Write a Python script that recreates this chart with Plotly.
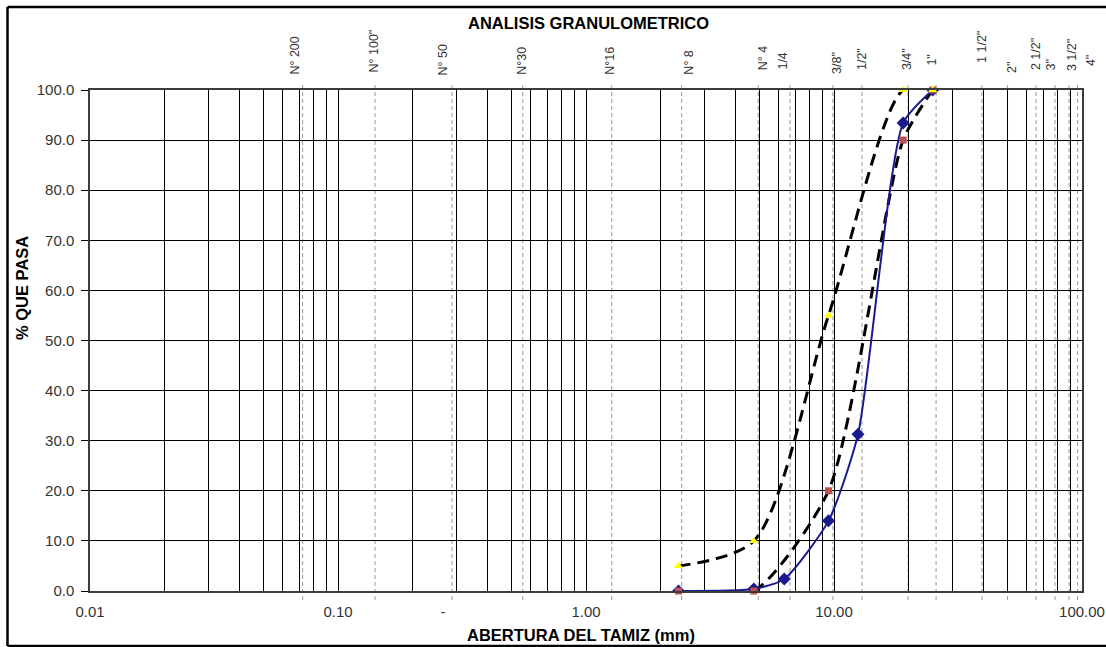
import math
import plotly.graph_objects as go

# ---------------- data ----------------
muestra_mm = [2.36, 4.75, 6.3, 9.5, 12.5, 19.0, 25.0]
muestra_pasa = [0.0, 0.4, 2.4, 14.0, 31.3, 93.4, 100.0]

lim_inf_mm = [2.36, 4.75, 9.5, 19.0, 25.0]
lim_inf_pasa = [0.0, 0.0, 20.0, 90.0, 100.0]

lim_sup_mm = [2.36, 4.75, 9.5, 19.0, 25.0]
lim_sup_pasa = [5.0, 10.0, 55.0, 100.0, 100.0]

tamiz_labels = ["N° 200", "N° 100\"", "N° 50", "N°30", "N°16", "N° 8", "N° 4", "1/4",
                "3/8\"", "1/2\"", "3/4\"", "1\"", "1 1/2\"", "2\"", "2 1/2\"", "3\"",
                "3 1/2\"", "4\""]
tamiz_mm = [0.072, 0.141, 0.288, 0.556, 1.27, 2.43, 4.95, 6.65, 9.9, 12.97, 19.9,
            25.8, 39.5, 50.1, 65.3, 77.8, 88.7, 96.0]

x_tick_vals = [0.01, 0.1, 0.265, 1, 10, 100]
x_tick_text = ["0.01", "0.10", "-", "1.00", "10.00", "100.00"]
grid_vals = [m * 10 ** e for e in range(-2, 2) for m in range(1, 10)] + [100]
y_tick_vals = list(range(0, 101, 10))

# ---------------- style / layout helpers ----------------
W, H = 1106, 647
L, R, T, B = 90, 1082, 90, 591          # plot area in pixels


def px_x(p):
    return (p - L) / (R - L)


def px_y(p):
    return (B - p) / (B - T)


label_dx = [-8, -2, -8, -1, -2, 7, 5, -7, 4, 0, -1, -4, 0, 4, 0, -3, 3, 14]
label_bottom = [77, 75, 77, 77, 77, 77, 72, 72, 76, 72, 72, 68, 65, 75, 72, 72, 73, 68]

FONT = "Liberation Sans, Arial, sans-serif"
BLUE = "#1A1A8F"

fig = go.Figure()

# lower limit (dashed line)
fig.add_trace(go.Scatter(
    x=lim_inf_mm, y=lim_inf_pasa, mode="lines",
    line=dict(color="black", width=3, dash="12px,7px", shape="spline", smoothing=0.65),
    showlegend=False, hoverinfo="skip"))

# sample curve
fig.add_trace(go.Scatter(
    x=muestra_mm, y=muestra_pasa, mode="lines+markers",
    line=dict(color=BLUE, width=2, shape="spline", smoothing=0.6),
    marker=dict(symbol="diamond", size=10, color=BLUE),
    showlegend=False))

# lower limit markers
fig.add_trace(go.Scatter(
    x=lim_inf_mm, y=lim_inf_pasa, mode="markers",
    marker=dict(symbol="square", size=7, color="#C0504D"),
    showlegend=False, cliponaxis=False))

# upper limit
fig.add_trace(go.Scatter(
    x=lim_sup_mm, y=lim_sup_pasa, mode="lines+markers",
    line=dict(color="black", width=3, dash="12px,7px", shape="spline", smoothing=0.8),
    marker=dict(symbol="triangle-up", size=8, color="#FFFF00"),
    showlegend=False, cliponaxis=False))

shapes = []
for v in tamiz_mm:
    shapes.append(dict(type="line", xref="x", yref="paper", x0=v, x1=v,
                       y0=px_y(600), y1=px_y(82), layer="between",
                       line=dict(color="#999999", width=1, dash="4px,3px")))

# outer frame (top, left, bottom)
fx0, fx1 = px_x(7.5), px_x(W)
fy0, fy1 = px_y(646), px_y(7)
shapes += [
    dict(type="line", xref="paper", yref="paper", x0=fx0, x1=fx1, y0=fy1, y1=fy1,
         line=dict(color="black", width=2.5)),
    dict(type="line", xref="paper", yref="paper", x0=fx0, x1=fx0, y0=fy0, y1=fy1,
         line=dict(color="black", width=2.5)),
    dict(type="line", xref="paper", yref="paper", x0=fx0, x1=fx1, y0=fy0, y1=fy0,
         line=dict(color="black", width=2.5)),
]

annotations = []
for lab, v, dx, bot in zip(tamiz_labels, tamiz_mm, label_dx, label_bottom):
    annotations.append(dict(
        text=lab, x=math.log10(v), xref="x", y=px_y(bot), yref="paper",
        textangle=-90, xanchor="center", yanchor="bottom", xshift=dx,
        showarrow=False, font=dict(family=FONT, size=12.5, color="#333333")))

annotations += [
    dict(text="<b>ANALISIS GRANULOMETRICO</b>", x=px_x(588), y=px_y(23),
         xref="paper", yref="paper", showarrow=False, xanchor="center",
         yanchor="middle", font=dict(family=FONT, size=16.5, color="black")),
    dict(text="<b>ABERTURA DEL TAMIZ (mm)</b>", x=px_x(581), y=px_y(635),
         xref="paper", yref="paper", showarrow=False, xanchor="center",
         yanchor="middle", font=dict(family=FONT, size=16.5, color="black")),
    dict(text="<b>% QUE PASA</b>", x=px_x(22), y=px_y(288), textangle=-90,
         xref="paper", yref="paper", showarrow=False, xanchor="center",
         yanchor="middle", font=dict(family=FONT, size=16.5, color="black")),
]

fig.update_layout(
    width=W, height=H,
    margin=dict(l=L, r=W - R, t=T, b=H - B, pad=0, autoexpand=False),
    paper_bgcolor="white", plot_bgcolor="white",
    shapes=shapes, annotations=annotations,
    xaxis=dict(type="log", range=[-2, 2], tickmode="array",
               tickvals=x_tick_vals, ticktext=x_tick_text, automargin=False,
               showgrid=False, ticks="", ticklabelstandoff=6,
               tickfont=dict(family=FONT, size=15, color="#333333"),
               showline=True, linecolor="#3C3C3C", linewidth=1.5, mirror=True,
               zeroline=False,
               minor=dict(tickmode="array", tickvals=grid_vals, showgrid=True,
                          gridcolor="black", gridwidth=1, ticks="")),
    yaxis=dict(range=[0, 100], tickmode="array", tickvals=y_tick_vals,
               tickformat=".1f", showgrid=True, gridcolor="black", gridwidth=1,
               ticks="outside", ticklen=7, tickcolor="black", ticklabelstandoff=4,
               automargin=False,
               tickfont=dict(family=FONT, size=15, color="#333333"),
               showline=True, linecolor="#3C3C3C", linewidth=1.5, mirror=True,
               zeroline=False),
)

fig.write_html("out.html",
               config={"displayModeBar": False},
               post_script="document.body.style.margin='0';"
                           "document.body.style.overflow='hidden';")
